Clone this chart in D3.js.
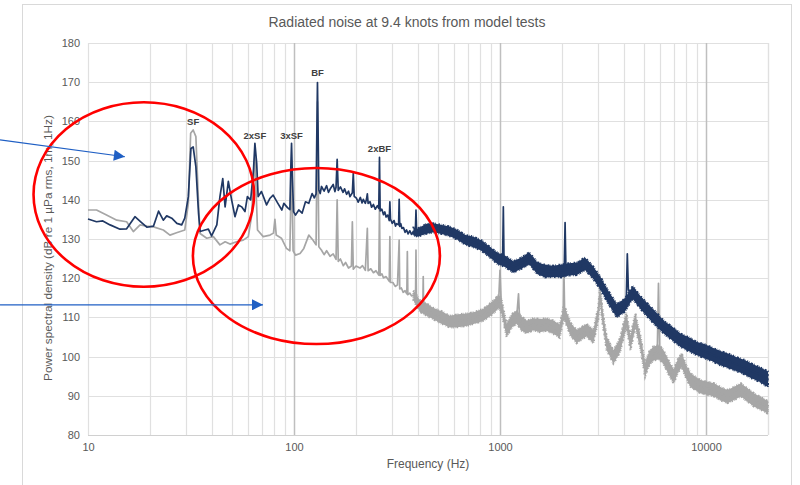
<!DOCTYPE html>
<html>
<head>
<meta charset="utf-8">
<title>Radiated noise at 9.4 knots from model tests</title>
<script src="https://cdn.jsdelivr.net/npm/d3@7"></script>
<style>
  body { margin: 0; background: #fff; }
  text { font-family: "Liberation Sans", Arial, sans-serif; fill: #595959; }
</style>
</head>
<body>
<svg id="chart" width="800" height="485"></svg>
<script>
// ---- data: [frequency Hz, dB] ----
var xTicks = [10, 100, 1000, 10000];
var yTicks = [80, 90, 100, 110, 120, 130, 140, 150, 160, 170, 180];

// dark blue series: centre line incl. tonal spikes
var navyLine = [[10,135.1],[11,134.4],[11.8,134.6],[12.8,133.6],[14.3,132.5],[15.4,132.6],[16.9,135.7],[18.2,134.2],
  [19.3,133],[20.8,133.3],[22,137.1],[23.2,134.8],[24.1,135.9],[25.5,135.3],[27,134],[28.5,133.6],[29.5,135.3],
  [30.7,140.8],[31.6,153.1],[32.4,153.5],[33.4,148.4],[34.4,136.6],[35,131.9],[37,132.3],[38.4,132.5],[39.8,130.8],
  [42.2,133.6],[43.7,140.8],[45.1,145.4],[46.3,138.2],[48,144.7],[49.8,140],[51.7,135.7],[53.7,138.7],[55.7,138.2],
  [57.8,137],[59.4,140.8],[61.6,140],[63.6,147.6],[64.6,154.4],[65.9,149.3],[67,140.8],[69.5,142.1],[73.6,138.7],
  [76.5,140.4],[79.2,141.2],[83.5,139.1],[87.3,137.4],[89.3,139.1],[93,138],[95.5,137.5],[96.5,148],[97.3,154.4],
  [98.2,146],[99.5,137],[101.7,136.1],[105.5,137.4],[109.5,136.6],[113.7,139.5],[118,139.1],[122.5,141.6],
  [125.5,140.5],[128,141.5],[130,169.9],[132,142.5],[134,141.6],[136,143.4],[140,142.2],[144,143.6],[147,141.9],
  [150,142.8],[155,143.9],[158,142.1],[160,143.2],[162,150.3],[164,142.4],[168,143.3],[173,141.9],[176,142.8],
  [180,141.4],[184,142.2],[187,140.8],[192,141.8],[194,146.7],[196,140.9],[201,140.4],[205,139.4],[210,140.6],
  [214,139.2],[217,140.1],[222,139.1],[225,140.2],[227,141.5],[229,139.1],[234,139.5],[238,138.1],[243,138.8],
  [248,137.6],[254,138.5],[258,137.8],[260,150.8],[262,137.2],[267,137.6],[272,136.2],[276,136.9],[280,135.6],
  [285,136.1],[290,134.7],[292,139.5],[294,135.1],[300,134],[306,134.7],[311,133.3],[315,133.9],[322,133.6],
  [324,140.1],[326,133.2],[330,133.9],[334,132.7],[340,132.9],[346,131.7],[352,132.3],[358,131.3],[365,132.1],
  [372,131.2],[380,131.9],[388,131.3],[391,137.4],[394,131.6],[399,131.6],[436,132.5],[477,132.8],[521,132.5],
  [570,131.9],[623,131],[681,129.8],[744,129.2],[813,128.3],[889,126.8],[972,125],[1030,124.5],[1038,138.2],
  [1046,124.4],[1062,124.2],[1161,122.9],[1269,123.8],[1387,125],[1516,122.6],[1657,121.8],[1811,121.7],
  [1980,121.9],[2050,122],[2070,134.2],[2090,122.1],[2164,122.2],[2365,122.5],[2585,123.6],[2825,121.5],
  [3088,118.5],[3375,114.8],[3689,111.8],[4032,113],[4100,114],[4150,126.2],[4200,117],[4407,116.3],[4817,113.8],
  [5265,111.5],[5755,109.5],[6290,107.3],[6875,105.8],[7514,104.2],[8213,103.2],[8977,102.1],[9812,101.4],
  [10725,100.5],[11722,99.6],[12812,98.9],[14004,98.1],[15306,97.3],[16730,96.3],[18286,95.4],[20000,94.2]];

// dark blue series: spread of the broadband noise [Hz, low dB, high dB]
var navyBand = [[380,130.9,132.9],[399,130.6,132.7],[436,131.3,133.8],[477,131.7,134],[521,131.3,133.6],
  [570,130.7,133.2],[623,129.8,132.3],[681,128.5,131],[744,127.9,130.6],[813,127,129.7],[889,125.4,128.1],
  [972,123.6,126.5],[1062,122.8,125.7],[1161,121.4,124.3],[1269,122.4,125.3],[1387,123.5,126.6],
  [1516,121.1,124.1],[1657,120.2,123.4],[1811,120.3,123.2],[1980,120.2,123.5],[2164,120.7,123.8],
  [2365,120.8,124],[2585,122.1,125.3],[2825,119.9,123.1],[3088,116.9,120.2],[3375,113.2,116.6],
  [3689,110,113.4],[4032,111.4,114.8],[4407,114.7,118],[4817,112.1,115.4],[5265,109.8,113.3],
  [5755,107.7,111.2],[6290,105.7,109],[6875,104.1,107.6],[7514,102.5,105.9],[8213,101.4,105],
  [8977,100.4,103.8],[9812,99.6,103.2],[10725,98.8,102.3],[11722,97.8,101.4],[12812,97.1,100.8],
  [14004,96.3,99.9],[15306,95.5,99.2],[16730,94.4,98.2],[18286,93.5,97.3],[20000,92.2,96.2]];

// grey series: centre line incl. tonal spikes
var greyLine = [[10,137.4],[11,137.4],[12.3,136.1],[13.8,134.8],[15.4,134.4],[16.6,131.9],[17.9,133.6],[19.3,133.3],
  [20.8,133.1],[23.2,132.3],[25,131],[26.9,131.6],[29.5,132.3],[30.7,139.1],[31.5,157],[32.4,157.8],[33.4,156.1],
  [34.4,139.1],[35,131.4],[37.7,130.2],[40.6,130.6],[43.7,128.5],[46.3,129.3],[48.9,128.7],[52.6,129.3],
  [56.7,129.7],[60,130.6],[62.2,135.7],[64.6,151],[66.5,132.3],[70.9,130.6],[76.5,131],[79.5,131.5],[80.8,135],
  [82,131],[86.9,130.2],[91.9,127.6],[95.5,127],[97.3,150],[99,127],[101.7,125.9],[107,126.3],[111.6,127.6],
  [118,131],[123.8,129.7],[128,128.5],[130,165],[132,128],[135.8,127.2],[140,126],[144,127],[149.6,125.6],
  [155,126.2],[160,124.8],[162,140],[164,124.3],[168,124.9],[173.5,123.2],[178,124],[184,122.6],[190,123.1],
  [192,134.4],[194,122.3],[200,123.1],[209,122.6],[215,123.2],[222,122],[227,132.7],[229,121.9],[236,122.4],
  [243,121.4],[250,121.9],[258,120.8],[260,138.2],[262,120.7],[267,121.1],[272,120.1],[280,120.4],[290,119.2],
  [292,130.6],[294,118.9],[302,118.9],[310,117.9],[318,118.3],[324,129.7],[326,117.3],[332,117.5],[339,116.4],
  [346,116.8],[353,116],[355,126.8],[357,115.8],[365,116.2],[372,115.5],[380,115.6],[389,115.1],[391,127.2],
  [393,115],[409,112.9],[422,112.3],[424,120.4],[426,112.2],[440,112],[475,111],[520,110],[572,108.9],[625,109.1],
  [689,109.4],[750,109.9],[830,110.6],[929,112.7],[985,114.1],[1000,122],[1015,113],[1077,106.7],[1140,109.1],
  [1205,110.1],[1230,116],[1245,109.5],[1275,108.4],[1349,107.5],[1450,108.2],[1563,107.9],[1680,108.2],
  [1815,107.5],[1950,106.5],[2030,110.9],[2045,121],[2060,111],[2200,107],[2356,105.1],[2500,106],[2634,106.7],
  [2840,105.1],[3000,111],[3060,116],[3150,110],[3294,103.4],[3420,101.7],[3550,99.9],[3700,101.5],[3830,103],
  [3980,106.6],[4110,109.3],[4200,106.5],[4300,103.4],[4430,106.7],[4550,109.3],[4660,106.4],[4785,104.2],
  [4920,100.5],[5060,96.6],[5300,99.5],[5550,100.8],[5800,101],[5880,118.7],[5960,101],[6200,100],[6560,97.4],
  [6970,94.9],[7300,97.6],[7620,99.1],[8000,96.2],[8420,94],[8900,93.1],[9430,92.3],[10200,91.9],[10950,91.5],
  [11800,90.5],[12720,89.8],[13700,90.6],[14780,91.5],[15900,90.2],[17160,88.9],[18500,88],[20000,87]];

// grey series: spread of the broadband noise [Hz, low dB, high dB]
var greyBand = [[380,114.3,116.9],[409,111.4,114.4],[440,110.4,113.6],[475,109.5,112.4],[520,108.4,111.6],
  [572,107.4,110.4],[625,107.5,110.8],[689,107.8,111],[750,108.4,111.4],[830,109.1,112.2],[929,111,114.3],
  [985,112.4,115.8],[1015,111.2,114.8],[1077,105,108.4],[1140,107.4,110.8],[1205,108.4,111.8],
  [1275,106.6,110.2],[1349,105.9,109.2],[1450,106.7,109.8],[1563,106.2,109.6],[1680,106.6,109.8],
  [1815,105.8,109.2],[1950,104.8,108.2],[2030,109.2,112.6],[2060,109.2,112.8],[2200,105.3,108.7],
  [2356,103.4,106.8],[2500,104.4,107.6],[2634,105.1,108.4],[2840,103.4,106.8],[3000,109.2,112.8],
  [3060,114,118],[3150,108.2,111.8],[3294,101.6,105.2],[3420,100,103.4],[3550,98.2,101.6],[3700,99.7,103.3],
  [3830,101.2,104.8],[3980,104.7,108.6],[4110,107.4,111.2],[4200,104.7,108.3],[4300,101.6,105.2],
  [4430,104.8,108.6],[4550,107.5,111.1],[4660,104.7,108.1],[4785,102.4,106],[4920,98.7,102.3],
  [5060,94.8,98.4],[5300,97.7,101.3],[5550,99,102.6],[5800,99.2,102.8],[5960,99.2,102.8],[6200,98.2,101.8],
  [6560,95.6,99.2],[6970,93.1,96.7],[7300,95.8,99.4],[7620,97.3,100.9],[8000,94.5,97.9],[8420,92.2,95.8],
  [8900,91.4,94.8],[9430,90.6,94],[10200,90.2,93.6],[10950,89.8,93.2],[11800,88.8,92.2],[12720,88.1,91.5],
  [13700,88.9,92.3],[14780,89.8,93.2],[15900,88.5,91.9],[17160,87.2,90.6],[18500,86.4,89.7],[20000,85.4,88.6]];

// tone labels [name, Hz, dB of label centre]
var toneLabels = [["SF",32.4,159.9],["2xSF",64.6,156.4],["3xSF",97.3,156.4],["BF",130,172.4],["2xBF",260,153.1]];

// red circles drawn over the chart [left Hz, right Hz, top dB, bottom dB]
var circles = [[5.44,64,164.9,117.8],[32.3,511,148.1,103.2]];
// blue arrows [from Hz, from dB, to Hz, to dB]
var arrows = [[3.74,155.3,15.1,151.0],[3.74,113.2,70.7,113.2]];

var svg = d3.select("#chart");
var x = d3.scaleLog().domain([10, 20000]).range([88, 768]);
var y = d3.scaleLinear().domain([80, 180]).range([435, 43]);

// outer chart frame
svg.append("rect").attr("x", 22.5).attr("y", 4.5).attr("width", 769).attr("height", 520)
  .attr("fill", "#fff").attr("stroke", "#d9d9d9");

svg.append("text").attr("x", 407).attr("y", 27).attr("text-anchor", "middle")
  .style("font-size", "14px").text("Radiated noise at 9.4 knots from model tests");

// grid
var minor = [];
[10, 100, 1000, 10000].forEach(function(d) {
  for (var k = 1; k <= 9; k++) if (d * k <= 20000) minor.push(d * k);
});
minor.push(20000);
svg.append("g").selectAll("line").data(yTicks).enter().append("line")
  .attr("x1", 88).attr("x2", 768)
  .attr("y1", function(d) { return Math.round(y(d)) + 0.5; })
  .attr("y2", function(d) { return Math.round(y(d)) + 0.5; })
  .attr("stroke", "#e0e0e0").attr("stroke-width", 1.2);
svg.append("g").selectAll("line").data(minor).enter().append("line")
  .attr("x1", function(d) { return Math.round(x(d)) + 0.5; })
  .attr("x2", function(d) { return Math.round(x(d)) + 0.5; })
  .attr("y1", 43).attr("y2", 435)
  .attr("stroke", function(d) { return (d == 100 || d == 1000 || d == 10000) ? "#bfbfbf" : "#e0e0e0"; })
  .attr("stroke-width", function(d) { return (d == 100 || d == 1000 || d == 10000) ? 1.5 : 1.2; });
svg.append("line").attr("x1", 88).attr("x2", 768).attr("y1", 435.5).attr("y2", 435.5)
  .attr("stroke", "#d0d0d0").attr("stroke-width", 1.2);

// axes labels
var xAxis = d3.axisBottom(x).tickValues(xTicks).tickFormat(d3.format("d")).tickSize(0).tickPadding(8);
var gx = svg.append("g").attr("transform", "translate(0,435)").call(xAxis);
var yAxis = d3.axisLeft(y).tickValues(yTicks).tickSize(0).tickPadding(8);
var gy = svg.append("g").attr("transform", "translate(88,0)").call(yAxis);
[gx, gy].forEach(function(g) {
  g.select(".domain").remove();
  g.selectAll("text").style("font-size", "11px").style("font-family", "Liberation Sans, Arial, sans-serif")
    .attr("fill", "#595959");
});

svg.append("text").attr("x", 428).attr("y", 468).attr("text-anchor", "middle")
  .style("font-size", "12px").text("Frequency (Hz)");
svg.append("text").attr("transform", "translate(52,248) rotate(-90)").attr("text-anchor", "middle")
  .style("font-size", "11.8px").text("Power spectral density (dB re 1 \u00b5Pa rms, 1m, 1Hz)");

// series
var line = d3.line().x(function(d) { return x(d[0]); }).y(function(d) { return y(d[1]); });
var band = d3.area().x(function(d) { return x(d[0]); })
  .y0(function(d) { return y(d[1]); }).y1(function(d) { return y(d[2]); });

function drawSeries(lineData, bandData, colour) {
  svg.append("path").datum(bandData).attr("d", band).attr("fill", colour);
  // ragged edge for the dense noise band
  svg.append("path").datum(bandData).attr("d", band).attr("fill", "none")
    .attr("stroke", colour).attr("stroke-width", 2)
    .attr("stroke-dasharray", "1.2 0.8 0.6 1.9 2.1 1.1 0.7 2.6 1.5 0.9 0.5 1.4");
  svg.append("path").datum(lineData).attr("d", line).attr("fill", "none")
    .attr("stroke", colour).attr("stroke-width", 1.7).attr("stroke-linejoin", "round");
}
drawSeries(greyLine, greyBand, "#a6a6a6");
drawSeries(navyLine, navyBand, "#203864");

svg.append("g").selectAll("text").data(toneLabels).enter().append("text")
  .attr("x", function(d) { return x(d[1]); })
  .attr("y", function(d) { return y(d[2]); })
  .attr("dy", "0.35em").attr("text-anchor", "middle")
  .style("font-size", "9.5px").style("font-weight", "bold").style("fill", "#404040")
  .text(function(d) { return d[0]; });

// annotations
svg.append("g").selectAll("ellipse").data(circles).enter().append("ellipse")
  .attr("cx", function(d) { return (x(d[0]) + x(d[1])) / 2; })
  .attr("cy", function(d) { return (y(d[2]) + y(d[3])) / 2; })
  .attr("rx", function(d) { return (x(d[1]) - x(d[0])) / 2; })
  .attr("ry", function(d) { return (y(d[3]) - y(d[2])) / 2; })
  .attr("fill", "none").attr("stroke", "#ff0000").attr("stroke-width", 2.6);

svg.append("defs").append("marker").attr("id", "head")
  .attr("viewBox", "0 0 10 10").attr("refX", 10).attr("refY", 5)
  .attr("markerWidth", 15).attr("markerHeight", 11).attr("markerUnits", "userSpaceOnUse")
  .attr("orient", "auto")
  .append("path").attr("d", "M0,0L10,5L0,10Z").attr("fill", "#1f5fc4");

svg.append("g").selectAll("line").data(arrows).enter().append("line")
  .attr("x1", function(d) { return x(d[0]); }).attr("y1", function(d) { return y(d[1]); })
  .attr("x2", function(d) { return x(d[2]); }).attr("y2", function(d) { return y(d[3]); })
  .attr("stroke", "#1f5fc4").attr("stroke-width", 1.1).attr("marker-end", "url(#head)");
</script>
</body>
</html>
